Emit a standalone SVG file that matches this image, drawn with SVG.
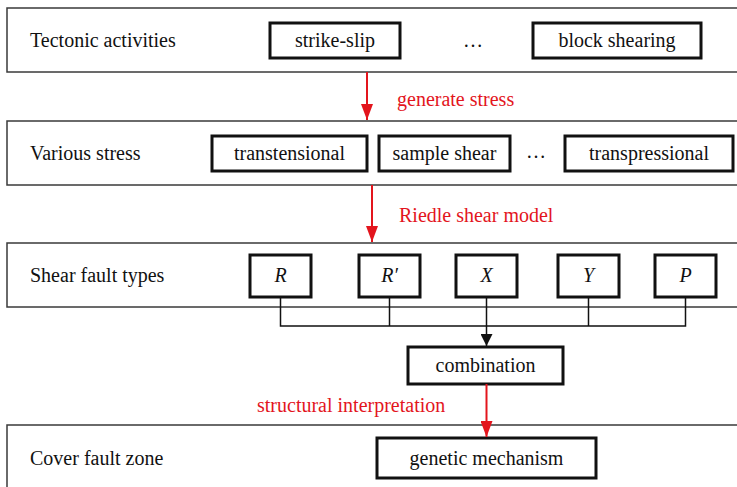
<svg xmlns="http://www.w3.org/2000/svg" width="737" height="487" viewBox="0 0 737 487">
  <style>
    .panel { fill: #fff; stroke: #3a3a3a; stroke-width: 1.5; }
    .box { fill: #fff; stroke: #111; stroke-width: 3; }
    .lbl { font-family: "Liberation Serif", "Times New Roman", serif; font-size: 20px; fill: #111; }
    .ctr { text-anchor: middle; }
    .it { font-style: italic; }
    .red { fill: #e3151d; }
    .wire { fill: none; stroke: #111; stroke-width: 1.5; }
    .rwire { fill: none; stroke: #e3151d; stroke-width: 2; }
  </style>
  <defs>
    <marker id="headBlack" markerWidth="12" markerHeight="12" refX="12" refY="6" orient="auto" markerUnits="userSpaceOnUse">
      <path d="M0,0 L12,6 L0,12 Z" fill="#111"/>
    </marker>
    <marker id="arrRed" markerWidth="16" markerHeight="12" refX="16" refY="6" orient="auto" markerUnits="userSpaceOnUse" viewBox="0 0 16 12">
      <path d="M0,0 L16,6 L0,12 Z" fill="#e3151d"/>
    </marker>
  </defs>

  <rect width="737" height="487" fill="#fff"/>

  <!-- Level 1: tectonic activities -->
  <g id="panel-tectonic">
    <rect class="panel" x="7" y="8" width="740" height="64"/>
    <text class="lbl" x="30" y="47">Tectonic activities</text>
  </g>
  <g id="node-strike-slip">
    <rect class="box" x="270" y="23" width="130" height="35"/>
    <text class="lbl ctr" x="335" y="47">strike-slip</text>
  </g>
  <g id="dots-1"><text class="lbl ctr" x="473" y="47">…</text></g>
  <g id="node-block-shearing">
    <rect class="box" x="533" y="23" width="168" height="35"/>
    <text class="lbl ctr" x="617" y="47">block shearing</text>
  </g>

  <!-- Level 2: various stress -->
  <g id="panel-stress">
    <rect class="panel" x="7" y="121" width="740" height="64"/>
    <text class="lbl" x="30" y="160">Various stress</text>
  </g>
  <g id="node-transtensional">
    <rect class="box" x="212" y="136" width="155" height="35"/>
    <text class="lbl ctr" x="289.5" y="160">transtensional</text>
  </g>
  <g id="node-sample-shear">
    <rect class="box" x="379" y="136" width="131" height="35"/>
    <text class="lbl ctr" x="444.5" y="160">sample shear</text>
  </g>
  <g id="dots-2"><text class="lbl ctr" x="536" y="158">…</text></g>
  <g id="node-transpressional">
    <rect class="box" x="565" y="136" width="168" height="35"/>
    <text class="lbl ctr" x="649" y="160">transpressional</text>
  </g>

  <!-- Level 3: shear fault types -->
  <g id="panel-shear">
    <rect class="panel" x="7" y="243" width="740" height="64"/>
    <text class="lbl" x="30" y="282">Shear fault types</text>
  </g>
  <g id="node-R">
    <rect class="box" x="250" y="255" width="61" height="42"/>
    <text class="lbl ctr it" x="280.5" y="282">R</text>
  </g>
  <g id="node-R-prime">
    <rect class="box" x="359" y="255" width="61" height="42"/>
    <text class="lbl ctr it" x="389.5" y="282">R′</text>
  </g>
  <g id="node-X">
    <rect class="box" x="456" y="255" width="61" height="42"/>
    <text class="lbl ctr it" x="486.5" y="282">X</text>
  </g>
  <g id="node-Y">
    <rect class="box" x="558" y="255" width="61" height="42"/>
    <text class="lbl ctr it" x="588.5" y="282">Y</text>
  </g>
  <g id="node-P">
    <rect class="box" x="655" y="255" width="61" height="42"/>
    <text class="lbl ctr it" x="685.5" y="282">P</text>
  </g>

  <g id="node-combination">
    <rect class="box" x="408" y="347" width="155" height="37"/>
    <text class="lbl ctr" x="485.5" y="372">combination</text>
  </g>

  <!-- Level 4: cover fault zone -->
  <g id="panel-cover">
    <rect class="panel" x="7" y="425" width="740" height="80"/>
    <text class="lbl" x="30" y="465">Cover fault zone</text>
  </g>
  <g id="node-genetic">
    <rect class="box" x="377" y="438" width="219" height="40"/>
    <text class="lbl ctr" x="486.5" y="465">genetic mechanism</text>
  </g>

  <!-- Connectors -->
  <g id="connectors">
    <line class="rwire" x1="367" y1="72" x2="367" y2="120" marker-end="url(#arrRed)"/>
    <text class="lbl red" x="397" y="106">generate stress</text>

    <line class="rwire" x1="372" y1="185" x2="372" y2="242" marker-end="url(#arrRed)"/>
    <text class="lbl red" x="399" y="222">Riedle shear model</text>

    <polyline class="wire" points="280.5,297 280.5,326 685.5,326 685.5,297"/>
    <line class="wire" x1="389.5" y1="297" x2="389.5" y2="326"/>
    <line class="wire" x1="588.5" y1="297" x2="588.5" y2="326"/>
    <line class="wire" x1="486.5" y1="297" x2="486.5" y2="346" marker-end="url(#headBlack)"/>

    <line class="rwire" x1="486.5" y1="384" x2="486.5" y2="437" marker-end="url(#arrRed)"/>
    <text class="lbl red" x="257" y="412">structural interpretation</text>
  </g>
</svg>
